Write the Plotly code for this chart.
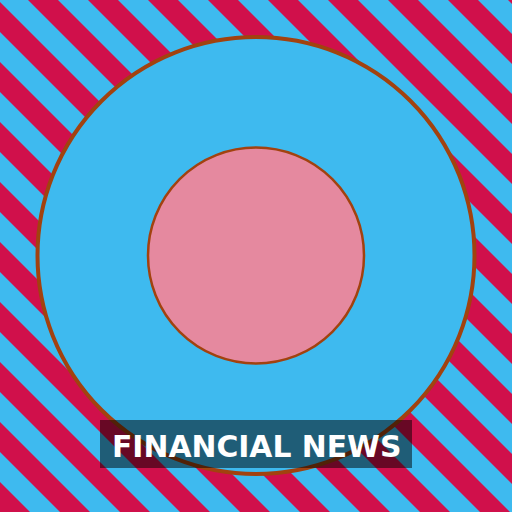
import plotly.graph_objects as go

# ---- data ----
title_text = "FINANCIAL NEWS"
ring_names = ["outer", "inner"]
ring_radius = [218.5, 108]
ring_fill = ["#3EBAEF", "#E5899F"]
ring_line_width = [4, 2.5]
stripe_period = 60
stripe_width = 30
stripe_offset = 28

W = H = 512
CX, CY = 256, 255.5
CRIMSON = "#D0104B"
BLUE = "#3EBAEF"
BROWN = "#A2420F"

shapes = []
# diagonal stripes (pixel coords, y down), crimson where (x - y) mod period in [offset, offset+width]
k0 = -((W + stripe_period) // stripe_period) - 1
k1 = W // stripe_period + 2
for k in range(k0, k1):
    c = stripe_offset + k * stripe_period
    path = (f"M {c},0 L {c + stripe_width},0 L {c + stripe_width + H},{H} "
            f"L {c + H},{H} Z")
    shapes.append(dict(type="path", path=path, xref="x", yref="y",
                       fillcolor=CRIMSON, line=dict(width=0), layer="below"))

for name, r, fc, lw in zip(ring_names, ring_radius, ring_fill, ring_line_width):
    shapes.append(dict(type="circle", xref="x", yref="y",
                       x0=CX - r, x1=CX + r, y0=CY - r, y1=CY + r,
                       fillcolor=fc, line=dict(color=BROWN, width=lw),
                       layer="above"))

# label box
shapes.append(dict(type="rect", xref="x", yref="y", x0=100, x1=412, y0=420, y1=468,
                   fillcolor="rgba(0,0,0,0.5)", line=dict(width=0), layer="above"))

fig = go.Figure()
fig.add_trace(go.Scatter(x=[0, W], y=[0, H], mode="markers",
                         marker=dict(opacity=0), hoverinfo="skip", showlegend=False))
fig.update_layout(
    width=W, height=H,
    margin=dict(l=0, r=0, t=0, b=0),
    paper_bgcolor=BLUE, plot_bgcolor=BLUE,
    xaxis=dict(range=[0, W], visible=False, fixedrange=True),
    yaxis=dict(range=[H, 0], visible=False, fixedrange=True),
    shapes=shapes,
    annotations=[dict(text=f"<b>{title_text}</b>", x=256, y=446, xref="x", yref="y",
                      showarrow=False, font=dict(family="DejaVu Sans", size=29.8, color="white"),
                      xanchor="center", yanchor="middle")],
    showlegend=False,
)
fig.write_html("out.html", config={"displayModeBar": False},
               post_script="document.body.style.margin='0';document.body.style.overflow='hidden';")
